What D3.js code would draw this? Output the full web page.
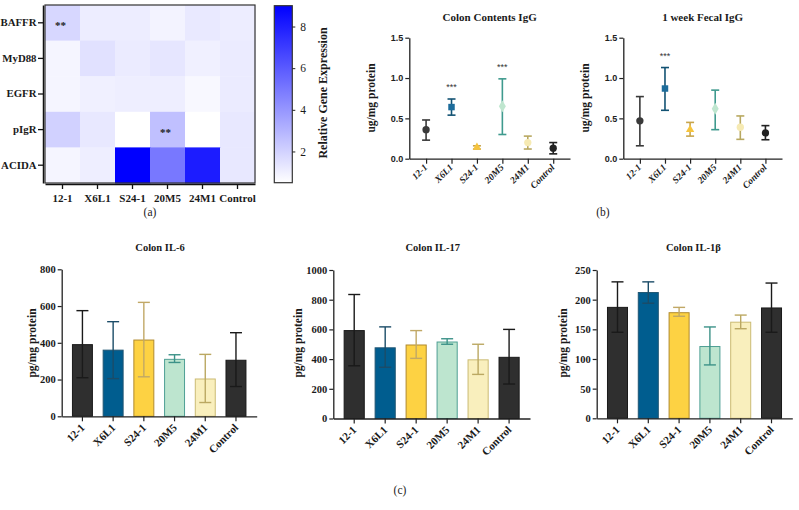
<!DOCTYPE html>
<html><head><meta charset="utf-8">
<script src="https://cdn.jsdelivr.net/npm/d3@7"></script>
<style>
html,body{margin:0;padding:0;background:#fff;}
svg{display:block;}
.sf{font-family:"Liberation Serif","Tinos","Times New Roman","DejaVu Serif","Noto Serif",serif;}
.ss{font-family:"Liberation Sans","Arimo",Arial,"DejaVu Sans",sans-serif;}
</style></head>
<body>
<svg id="chart" width="799" height="510"></svg>
<script>
// ---------- DATA ----------
const groups = ["12-1","X6L1","S24-1","20M5","24M1","Control"];
const genes = ["BAFFR","MyD88","EGFR","pIgR","ACIDA"];
// heatmap relative gene expression, rows = genes, cols = groups
const heatBAFFR = [1.85, 1.1, 1.1, 0.9, 1.23, 1.1];
const heatMyD88 = [0.83, 1.5, 1.17, 1.33, 1.0, 1.17];
const heatEGFR  = [0.83, 1.0, 1.07, 1.07, 0.73, 1.17];
const heatPIgR  = [2.05, 1.27, 0.5, 2.6, 0.5, 1.27];
const heatACIDA = [0.83, 1.07, 9.0, 5.0, 8.05, 1.27];
const heatStars = [["BAFFR","12-1","**"],["pIgR","20M5","**"]];
const colorTicks = [2,4,6,8];

// Panel b: IgG (mean, lower, upper)
const contentsMean  = [0.36, 0.64, 0.14, 0.65, 0.20, 0.13];
const contentsLow   = [0.23, 0.54, 0.12, 0.30, 0.12, 0.06];
const contentsHigh  = [0.48, 0.74, 0.16, 0.99, 0.28, 0.20];
const contentsStars = ["", "***", "", "***", "", ""];
const fecalMean  = [0.47, 0.87, 0.36, 0.62, 0.39, 0.32];
const fecalLow   = [0.16, 0.60, 0.28, 0.36, 0.24, 0.235];
const fecalHigh  = [0.77, 1.13, 0.45, 0.85, 0.53, 0.41];
const fecalStars = ["", "***", "", "", "", ""];
const igTicks = [0, 0.5, 1.0, 1.5];

// Panel c: cytokines
const il6Mean = [390, 360, 415, 310, 203, 305];
const il6Low  = [210, 205, 215, 293, 75, 162];
const il6High = [575, 515, 620, 335, 337, 455];
const il6Ticks = [0,200,400,600,800];
const il17Mean = [592, 476, 495, 515, 395, 412];
const il17Low  = [355, 345, 405, 500, 297, 232];
const il17High = [835, 617, 592, 537, 500, 600];
const il17Ticks = [0,200,400,600,800,1000];
const il1bMean = [187, 212, 178, 121, 162, 186];
const il1bLow  = [145, 194, 172, 90, 151, 145];
const il1bHigh = [230, 230, 187, 154, 174, 228];
const il1bTicks = [0,50,100,150,200,250];

// ---------- STYLE ----------
const fill = ["#2f2f2f","#005d8f","#fdd243","#bde5cf","#f9efbd","#2f2f2f"];
const stroke = ["#1a1a1a","#1f5573","#b08a2e","#4f9f94","#cbbb73","#1a1a1a"];
const errCol = ["#1a1a1a","#1b4c68","#c1a866","#3c9288","#bba862","#1a1a1a"];
const markFill = ["#3a3a3a","#1c6c9b","#f6c43d","#bfe6cf","#f6eab3","#222"];
const markErr = ["#3a3a3a","#125273","#c8a54b","#3f9a8e","#b8a860","#222"];
const symbols = [d3.symbolCircle, d3.symbolSquare, d3.symbolTriangle, d3.symbolDiamond, d3.symbolCircle, d3.symbolCircle];

const svg = d3.select("#chart");
function serifText(sel, size, bold){
  sel.attr("class","sf").attr("font-family",null).attr("font-size",size)
     .attr("font-weight",bold?"bold":"normal").attr("fill","#1a1a1a");
  return sel;
}

// ---------- PANEL A: HEATMAP ----------
const heatRows = [heatBAFFR, heatMyD88, heatEGFR, heatPIgR, heatACIDA];
const hx = d3.scaleBand().domain(groups).range([45,255]);
const hy = d3.scaleBand().domain(genes).range([5,183]);
const color = d3.scaleLinear().domain([0.5,9]).range(["#ffffff","#0000ff"]).clamp(true);
const cells = [];
genes.forEach((g,i)=>groups.forEach((c,j)=>cells.push({g,c,v:heatRows[i][j]})));
const gA = svg.append("g");
gA.selectAll("rect.cell").data(cells).join("rect")
  .attr("x",d=>hx(d.c)).attr("y",d=>hy(d.g))
  .attr("width",hx.bandwidth()+0.5).attr("height",hy.bandwidth()+0.5)
  .attr("fill",d=>color(d.v));
gA.append("rect").attr("x",45).attr("y",5).attr("width",210).attr("height",178)
  .attr("fill","none").attr("stroke","#333").attr("stroke-width",1.2);
serifText(gA.selectAll("text.star").data(heatStars).join("text")
  .attr("x",d=>hx(d[1])+hx.bandwidth()/2-2).attr("y",d=>hy(d[0])+hy.bandwidth()/2+6)
  .attr("text-anchor","middle").text(d=>d[2]), 11, true);
const axL = gA.append("g").attr("transform","translate(43,0)")
  .call(d3.axisLeft(hy).tickSize(5).tickSizeOuter(0).tickPadding(1.5));
axL.attr("font-family",null);
axL.select(".domain").attr("stroke","#111").attr("stroke-width",1.5);
axL.selectAll(".tick line").attr("stroke","#111").attr("stroke-width",1.3);
serifText(axL.selectAll("text"), 10.8, true);
const axB = gA.append("g").attr("transform","translate(0,184)")
  .call(d3.axisBottom(hx).tickSize(5).tickSizeOuter(0).tickPadding(5));
axB.attr("font-family",null);
axB.select(".domain").attr("stroke","#111").attr("stroke-width",1.5);
axB.selectAll(".tick line").attr("stroke","#111").attr("stroke-width",1.3);
serifText(axB.selectAll("text"), 11, true);

// colorbar
const cy = d3.scaleLinear().domain([0.5,9]).range([182.7,5.7]);
const defs = svg.append("defs");
const lg = defs.append("linearGradient").attr("id","cbar").attr("x1",0).attr("x2",0).attr("y1",1).attr("y2",0);
lg.append("stop").attr("offset","0%").attr("stop-color",color(0.5));
lg.append("stop").attr("offset","100%").attr("stop-color",color(9));
svg.append("rect").attr("x",274.3).attr("y",5.7).attr("width",18).attr("height",177)
  .attr("fill","url(#cbar)").attr("stroke","#333").attr("stroke-width",1.2);
const axC = svg.append("g").attr("transform","translate(292.3,0)")
  .call(d3.axisRight(cy).tickValues(colorTicks).tickSize(3).tickPadding(5));
axC.attr("font-family",null);
axC.select(".domain").remove();
axC.selectAll(".tick line").attr("stroke","#222");
serifText(axC.selectAll("text"), 11.5, false);
serifText(svg.append("text").attr("transform","translate(327,93) rotate(-90)").attr("text-anchor","middle")
  .text("Relative Gene Expression"), 12, true);
serifText(svg.append("text").attr("x",150).attr("y",216).attr("text-anchor","middle").text("(a)"), 11.5, false);

// ---------- PANEL B ----------
function igPanel(opt){
  const g = svg.append("g");
  const x = d3.scalePoint().domain(groups).range([opt.x0,opt.x1]).padding(0.66);
  const y = d3.scaleLinear().domain([0,1.5]).range([158.7,37.7]);
  const ax = g.append("g").attr("transform","translate(0,158.7)")
    .call(d3.axisBottom(x).tickSize(5).tickSizeOuter(0).tickFormat(""));
  ax.select(".domain").attr("stroke","#222").attr("stroke-width",1.3);
  ax.selectAll(".tick line").attr("stroke","#222").attr("stroke-width",1.2);
  serifText(g.selectAll("text.xl").data(groups).join("text")
    .attr("transform",d=>`translate(${x(d)+2},${168}) rotate(-45)`)
    .attr("text-anchor","end").attr("font-style","italic").text(d=>d), 9.5, true);
  const ay = g.append("g").attr("transform",`translate(${opt.x0},0)`)
    .call(d3.axisLeft(y).tickValues(igTicks).tickFormat(d3.format(".1f")).tickSize(4).tickPadding(2).tickSizeOuter(0));
  ay.attr("font-family",null);
  ay.select(".domain").attr("stroke","#222").attr("stroke-width",1.3);
  ay.selectAll(".tick line").attr("stroke","#222").attr("stroke-width",1.2);
  ay.selectAll("text").attr("class","ss").attr("font-size",9).attr("font-weight","bold").attr("fill","#222");
  serifText(g.append("text").attr("x",(opt.x0+opt.x1)/2).attr("y",21).attr("text-anchor","middle")
    .text(opt.title), 11, true);
  serifText(g.append("text").attr("transform",`translate(${opt.x0-34},98) rotate(-90)`).attr("text-anchor","middle")
    .text("ug/mg protein"), 11.5, true);
  groups.forEach((c,i)=>{
    const cx = x(c);
    g.append("line").attr("x1",cx).attr("x2",cx).attr("y1",y(opt.low[i])).attr("y2",y(opt.high[i]))
      .attr("stroke",markErr[i]).attr("stroke-width",1.6);
    [opt.low[i],opt.high[i]].forEach(v=>g.append("line").attr("x1",cx-4).attr("x2",cx+4)
      .attr("y1",y(v)).attr("y2",y(v)).attr("stroke",markErr[i]).attr("stroke-width",1.6));
    g.append("path").attr("d",d3.symbol().type(symbols[i]).size(i===2?30:42)())
      .attr("transform",`translate(${cx},${y(opt.mean[i])})`).attr("fill",markFill[i]);
    if(opt.stars[i]) g.append("text").attr("x",cx).attr("y",y(opt.high[i])-9).attr("text-anchor","middle")
      .attr("class","ss").attr("font-size",9).attr("fill","#333").text(opt.stars[i]);
  });
}
igPanel({x0:409.3,x1:570,title:"Colon Contents IgG",mean:contentsMean,low:contentsLow,high:contentsHigh,stars:contentsStars});
igPanel({x0:623.3,x1:782,title:"1 week Fecal IgG",mean:fecalMean,low:fecalLow,high:fecalHigh,stars:fecalStars});
serifText(svg.append("text").attr("x",603).attr("y",216).attr("text-anchor","middle").text("(b)"), 11.5, false);

// ---------- PANEL C ----------
function barPanel(opt){
  const g = svg.append("g");
  const x = d3.scaleBand().domain(groups).range([opt.x0,opt.x1]).paddingInner(0.35).paddingOuter(0.35);
  const y = d3.scaleLinear().domain([0,opt.max]).range([opt.yb,opt.yt]);
  const bw = x.bandwidth();
  groups.forEach((c,i)=>{
    const cx = x(c)+bw/2;
    g.append("rect").attr("x",x(c)).attr("y",y(opt.mean[i])).attr("width",bw)
      .attr("height",y(0)-y(opt.mean[i])).attr("fill",fill[i]).attr("stroke",stroke[i]).attr("stroke-width",1);
    g.append("line").attr("x1",cx).attr("x2",cx).attr("y1",y(opt.low[i])).attr("y2",y(opt.high[i]))
      .attr("stroke",errCol[i]).attr("stroke-width",1.4);
    [opt.low[i],opt.high[i]].forEach(v=>g.append("line").attr("x1",cx-6).attr("x2",cx+6)
      .attr("y1",y(v)).attr("y2",y(v)).attr("stroke",errCol[i]).attr("stroke-width",1.4));
  });
  const ax = g.append("g").attr("transform",`translate(0,${opt.yb})`)
    .call(d3.axisBottom(x).tickSize(5).tickSizeOuter(0).tickFormat(""));
  ax.select(".domain").attr("stroke","#222").attr("stroke-width",1.3);
  ax.selectAll(".tick line").attr("stroke","#222").attr("stroke-width",1.2);
  serifText(g.selectAll("text.xl").data(groups).join("text")
    .attr("transform",d=>`translate(${x(d)+bw/2+3},${opt.yb+12}) rotate(-45)`)
    .attr("text-anchor","end").text(d=>d), 11, true);
  const ay = g.append("g").attr("transform",`translate(${opt.x0},0)`)
    .call(d3.axisLeft(y).tickValues(opt.ticks).tickFormat(d3.format("d")).tickSize(4).tickPadding(2).tickSizeOuter(0));
  ay.attr("font-family",null);
  ay.select(".domain").attr("stroke","#222").attr("stroke-width",1.3);
  ay.selectAll(".tick line").attr("stroke","#222").attr("stroke-width",1.2);
  serifText(ay.selectAll("text"), 10.5, true);
  serifText(g.append("text").attr("x",opt.tx).attr("y",251).attr("text-anchor","middle")
    .text(opt.title), 10.5, true);
  serifText(g.append("text").attr("transform",`translate(${opt.lx},343) rotate(-90)`).attr("text-anchor","middle")
    .text("pg/mg protein"), 11.5, true);
}
barPanel({x0:61.7,x1:256.7,yt:269.3,yb:416.3,max:800,ticks:il6Ticks,mean:il6Mean,low:il6Low,high:il6High,title:"Colon IL-6",tx:160,lx:36});
barPanel({x0:333.3,x1:530,yt:270,yb:418.5,max:1000,ticks:il17Ticks,mean:il17Mean,low:il17Low,high:il17High,title:"Colon IL-17",tx:432.7,lx:302});
barPanel({x0:596.7,x1:792.3,yt:270,yb:418.3,max:250,ticks:il1bTicks,mean:il1bMean,low:il1bLow,high:il1bHigh,title:"Colon IL-1β",tx:693.3,lx:567});
serifText(svg.append("text").attr("x",400).attr("y",494).attr("text-anchor","middle").text("(c)"), 11.5, false);
</script>
</body></html>
